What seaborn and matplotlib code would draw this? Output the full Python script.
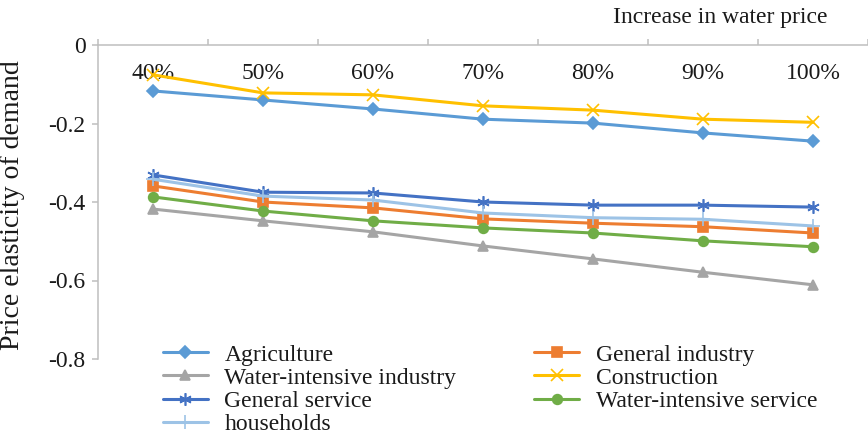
import numpy as np
import pandas as pd
import matplotlib
matplotlib.use("Agg")
import matplotlib.pyplot as plt
import seaborn as sns

# Increase in water price (categories along the top axis)
price_increase = ["40%", "50%", "60%", "70%", "80%", "90%", "100%"]

# Price elasticity of demand for each sector
agriculture = [-0.117, -0.140, -0.163, -0.189, -0.199, -0.224, -0.245]
general_industry = [-0.359, -0.400, -0.415, -0.443, -0.454, -0.463, -0.479]
water_intensive_industry = [-0.418, -0.448, -0.476, -0.512, -0.545, -0.579, -0.611]
construction = [-0.076, -0.122, -0.127, -0.155, -0.166, -0.189, -0.197]
general_service = [-0.331, -0.375, -0.377, -0.400, -0.408, -0.408, -0.413]
water_intensive_service = [-0.387, -0.423, -0.448, -0.466, -0.479, -0.499, -0.514]
households = [-0.342, -0.385, -0.395, -0.428, -0.440, -0.444, -0.461]

sectors = ["Agriculture", "General industry", "Water-intensive industry",
           "Construction", "General service", "Water-intensive service",
           "households"]
series = [agriculture, general_industry, water_intensive_industry,
          construction, general_service, water_intensive_service, households]

y_ticks = [0, -0.2, -0.4, -0.6, -0.8]

df = pd.DataFrame({
    "increase": price_increase * len(sectors),
    "elasticity": np.concatenate(series),
    "sector": np.repeat(sectors, len(price_increase)),
})

palette = {
    "Agriculture": "#5B9BD5",
    "General industry": "#ED7D31",
    "Water-intensive industry": "#A5A5A5",
    "Construction": "#FFC000",
    "General service": "#4472C4",
    "Water-intensive service": "#70AD47",
    "households": "#9DC3E6",
}
markers = {
    "Agriculture": "D",
    "General industry": "s",
    "Water-intensive industry": "^",
    "Construction": "x",
    "General service": (6, 2, 0),
    "Water-intensive service": "o",
    "households": "+",
}
marker_sizes = {
    "Agriculture": 6,
    "General industry": 6.5,
    "Water-intensive industry": 7,
    "Construction": 8,
    "General service": 9,
    "Water-intensive service": 7,
    "households": 10,
}

sns.set_theme(style="white")
plt.rcParams["font.family"] = ["Liberation Serif", "DejaVu Serif"]

fig = plt.figure(figsize=(8.68, 4.34), dpi=100)
ax = fig.add_axes([98 / 868, 1 - 359 / 434, 770 / 868, 314 / 434])

sns.lineplot(data=df, x="increase", y="elasticity", hue="sector",
             hue_order=sectors, palette=palette, sort=False,
             linewidth=2.2, legend=False, ax=ax)

# Excel-style markers, one shape per sector
lines = ax.get_lines()
for line, name in zip(lines, sectors):
    c = palette[name]
    line.set_marker(markers[name])
    line.set_markeredgecolor(c)
    line.set_markerfacecolor(c)
    line.set_markeredgewidth(1.2)
    line.set_markersize(marker_sizes[name])

axis_grey = "#BFBFBF"
text_col = "#1a1a1a"

# y axis
ax.set_ylim(-0.8, 0)
ax.set_yticks(y_ticks, labels=[f"{v:g}" for v in y_ticks])
ax.tick_params(axis="y", left=True, length=4, width=1.1, color=axis_grey,
               pad=5, labelsize=17, labelcolor=text_col)
ax.set_ylabel("Price elasticity of demand", fontsize=20, color=text_col)
ax.yaxis.set_label_coords(-0.095, 0.49)

# x axis drawn along the zero line at the top
ax.set_xlim(-0.5, len(price_increase) - 0.5)
ax.xaxis.tick_top()
ax.set_xticks(range(len(price_increase)), labels=price_increase)
ax.set_xticks(np.arange(-0.5, len(price_increase), 1.0), minor=True)
ax.tick_params(axis="x", which="major", top=True, bottom=False, length=0,
               pad=-28, labelsize=17, labelcolor=text_col)
ax.tick_params(axis="x", which="minor", top=True, bottom=False, length=4,
               width=1.1, color=axis_grey)
ax.set_xlabel("")

for side in ("right", "bottom"):
    ax.spines[side].set_visible(False)
for side in ("top", "left"):
    ax.spines[side].set_color(axis_grey)
    ax.spines[side].set_linewidth(1.1)

fig.text(720 / 868, 1 - 18 / 434, "Increase in water price", ha="center",
         va="center", fontsize=17, color=text_col)

order = [0, 2, 4, 6, 1, 3, 5]
ax.legend([lines[i] for i in order], [sectors[i] for i in order], ncol=2,
          loc="upper left", bbox_to_anchor=(163 / 868, 1 - 344 / 434),
          bbox_transform=fig.transFigure, frameon=False, fontsize=17,
          handlelength=1.9, handletextpad=0.7, columnspacing=3.3,
          labelspacing=0.07, borderpad=0, borderaxespad=0,
          labelcolor=text_col)

fig.savefig("out.png", dpi=100)
